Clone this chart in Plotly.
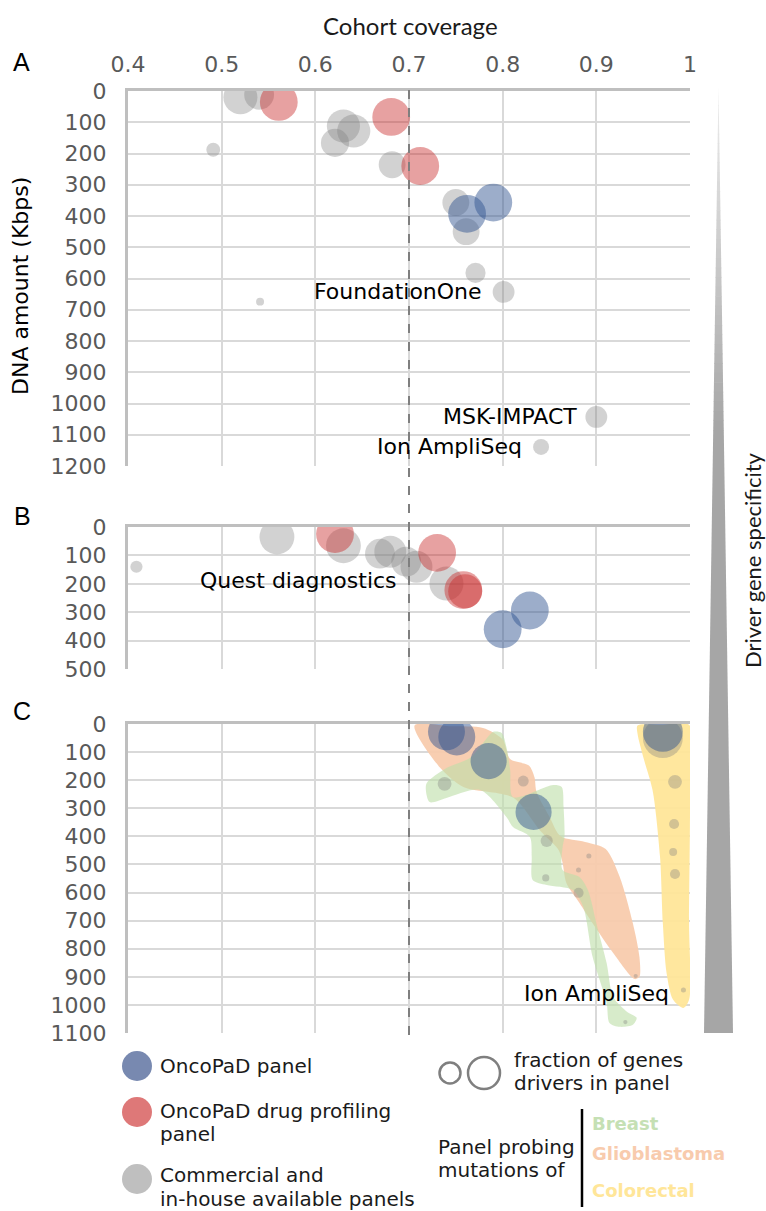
import plotly.graph_objects as go

W, H = 766, 1211


def px(x):
    return x / W


def py(y):
    return 1 - y / H


# ---------------- data ----------------
# Panel A  (cohort coverage, DNA amount in Kbps, fraction of driver genes)
a_gray_cov = [0.52, 0.54, 0.63, 0.641, 0.621, 0.491, 0.682, 0.75, 0.761, 0.771, 0.541, 0.801, 0.90, 0.841]
a_gray_dna = [20, 12, 112, 128, 166, 188, 236, 357, 450, 582, 674, 643, 1043, 1139]
a_gray_drv = [0.81, 0.71, 0.79, 0.79, 0.67, 0.33, 0.64, 0.64, 0.64, 0.48, 0.19, 0.52, 0.52, 0.38]
a_red_cov = [0.561, 0.681, 0.712]
a_red_dna = [35, 83, 240]
a_red_drv = [0.90, 0.90, 0.90]
a_blue_cov = [0.762, 0.79]
a_blue_dna = [393, 357]
a_blue_drv = [0.90, 0.90]

# Panel B
b_gray_cov = [0.409, 0.559, 0.63, 0.669, 0.68, 0.697, 0.708, 0.74]
b_gray_dna = [140, 35, 66, 94, 87, 122, 140, 199]
b_gray_drv = [0.29, 0.83, 0.83, 0.71, 0.76, 0.71, 0.76, 0.81]
b_red_cov = [0.621, 0.73, 0.758, 0.76]
b_red_dna = [25, 91, 222, 226]
b_red_drv = [0.90, 0.90, 0.90, 0.81]
b_blue_cov = [0.829, 0.80]
b_blue_dna = [294, 360]
b_blue_drv = [0.90, 0.90]

# Panel C
c_gray_cov = [0.971, 0.738, 0.822, 0.847, 0.846, 0.892, 0.881, 0.881, 0.984, 0.983, 0.982, 0.984, 0.993, 0.942, 0.931]
c_gray_dna = [50, 213, 203, 416, 548, 470, 520, 601, 206, 356, 456, 534, 947, 897, 1061]
c_gray_drv = [0.95, 0.33, 0.26, 0.29, 0.17, 0.12, 0.12, 0.24, 0.33, 0.24, 0.19, 0.24, 0.12, 0.10, 0.10]
c_blue_cov = [0.740, 0.751, 0.785, 0.833, 0.971]
c_blue_dna = [28, 46, 132, 313, 28]
c_blue_drv = [0.88, 0.88, 0.86, 0.86, 0.95]

# Panel C cancer-type regions (outline in coverage / DNA amount)
glio_cov = [0.706, 0.745, 0.779, 0.800, 0.808, 0.828, 0.834, 0.836, 0.850, 0.862, 0.888, 0.910,
            0.925, 0.939, 0.946, 0.946, 0.941, 0.918, 0.896, 0.882, 0.868, 0.864, 0.860, 0.840,
            0.811, 0.758, 0.733]
glio_dna = [5, 8, 14, 55, 125, 148, 190, 240, 330, 400, 420, 445,
            545, 709, 829, 900, 908, 815, 709, 637, 566, 495, 450, 380,
            262, 224, 155]

breast_cov = [0.719, 0.740, 0.765, 0.779, 0.790, 0.799, 0.804, 0.808, 0.811, 0.854, 0.863, 0.865,
              0.866, 0.864, 0.864, 0.882, 0.891, 0.900, 0.911, 0.918, 0.933, 0.943, 0.939, 0.925,
              0.914, 0.911, 0.896, 0.886, 0.875, 0.847, 0.832, 0.831, 0.829, 0.811, 0.804,
              0.776, 0.740, 0.722, 0.718]
breast_dna = [210, 157, 121, 68, 28, 32, 82, 164, 260, 217, 224, 295,
              402, 438, 520, 545, 591, 709, 851, 972, 1025, 1046, 1071, 1078,
              1064, 993, 829, 651, 591, 573, 555, 473, 402, 367, 331,
              235, 263, 278, 235]

colo_cov = [0.944, 0.970, 0.999, 1.000, 0.999, 0.999, 0.993, 0.982, 0.975, 0.971, 0.968, 0.960, 0.950, 0.944]
colo_dna = [5, 3, 3, 300, 700, 982, 1011, 982, 886, 709, 473, 235, 117, 35]

x_ticks = [0.4, 0.5, 0.6, 0.7, 0.8, 0.9, 1.0]
x_tick_text = ["0.4", "0.5", "0.6", "0.7", "0.8", "0.9", "1"]
threshold = 0.7

# ---------------- styles ----------------
GRAY = "rgba(127,127,127,0.5)"
RED = "rgba(200,40,40,0.62)"
BLUE = "rgba(47,82,143,0.68)"
GRID = "#d9d9d9"
AXIS = "#bfbfbf"
TICK = "#595959"
FONT = "DejaVu Sans"
SIZEREF = 1 / 42.0

fig = go.Figure()


def bubbles(xs, ys, ss, color, xa, ya):
    fig.add_trace(go.Scatter(
        x=xs, y=ys, mode="markers", xaxis=xa, yaxis=ya, hoverinfo="skip",
        marker=dict(size=ss, sizemode="diameter", sizeref=SIZEREF, color=color, line=dict(width=0)),
    ))


def region(xs, ys, color, xa, ya):
    fig.add_trace(go.Scatter(
        x=xs + xs[:1], y=ys + ys[:1], mode="lines", fill="toself", fillcolor=color,
        line=dict(width=0, shape="spline", smoothing=0.8), xaxis=xa, yaxis=ya, hoverinfo="skip",
    ))


# Panel A
bubbles(a_gray_cov, a_gray_dna, a_gray_drv, GRAY, "x", "y")
bubbles(a_red_cov, a_red_dna, a_red_drv, RED, "x", "y")
bubbles(a_blue_cov, a_blue_dna, a_blue_drv, BLUE, "x", "y")
# Panel B
bubbles(b_gray_cov, b_gray_dna, b_gray_drv, GRAY, "x2", "y2")
bubbles(b_red_cov, b_red_dna, b_red_drv, RED, "x2", "y2")
bubbles(b_blue_cov, b_blue_dna, b_blue_drv, BLUE, "x2", "y2")
# Panel C
region(glio_cov, glio_dna, "rgba(248,203,173,0.95)", "x3", "y3")
region(breast_cov, breast_dna, "rgba(190,222,170,0.62)", "x3", "y3")
region(colo_cov, colo_dna, "rgba(255,230,153,0.95)", "x3", "y3")
bubbles(c_gray_cov, c_gray_dna, c_gray_drv, GRAY, "x3", "y3")
bubbles(c_blue_cov, c_blue_dna, c_blue_drv, BLUE, "x3", "y3")

xdom = [px(128), px(690)]


def xaxis(anchor, labels):
    d = dict(domain=xdom, range=[0.4, 1.0], side="top", anchor=anchor, tickvals=x_ticks,
             showgrid=True, gridcolor=GRID, gridwidth=2, showline=True, linecolor=AXIS,
             linewidth=2.5, zeroline=False, ticks="", fixedrange=True, automargin=False,
             showticklabels=labels)
    if labels:
        d.update(ticktext=x_tick_text, tickfont=dict(family=FONT, size=22, color=TICK),
                 ticklabelstandoff=7)
    return d


def yaxis(anchor, top, bottom, vmax):
    return dict(domain=[py(bottom), py(top)], range=[vmax, 0], anchor=anchor,
                tickvals=list(range(0, vmax + 1, 100)), showgrid=True, gridcolor=GRID,
                gridwidth=2, showline=True, linecolor=AXIS, linewidth=3, zeroline=False,
                ticks="", tickfont=dict(family=FONT, size=22, color=TICK),
                ticklabelstandoff=14, fixedrange=True, automargin=False)


fig.update_layout(
    width=W, height=H, autosize=False, margin=dict(l=0, r=0, t=0, b=0, pad=0),
    paper_bgcolor="white", plot_bgcolor="rgba(0,0,0,0)", showlegend=False,
    xaxis=xaxis("y", True), xaxis2=xaxis("y2", False), xaxis3=xaxis("y3", False),
    yaxis=yaxis("x", 91, 466, 1200), yaxis2=yaxis("x2", 527, 669, 500),
    yaxis3=yaxis("x3", 724, 1033, 1100),
)

shapes = []
# threshold dashed line across the three panels
shapes.append(dict(type="line", xref="x", yref="paper", x0=threshold, x1=threshold,
                   y0=py(1035), y1=py(88), line=dict(color="#7f7f7f", width=2, dash="dash"),
                   layer="above"))

# Driver gene specificity wedge (gradient at the tip)
ax_, ay_ = 718.5, 86.0
by_, hw = 1033.0, 14.5


def hwid(y):
    return (y - ay_) / (by_ - ay_) * hw


grad_end = 430.0
N = 36
c0, c1 = (238, 238, 238), (166, 166, 166)
for i in range(N):
    y0 = ay_ + (grad_end - ay_) * i / N
    y1 = ay_ + (grad_end - ay_) * (i + 1) / N + 0.6
    t = (i + 0.5) / N
    col = "rgb(%d,%d,%d)" % tuple(round(c0[k] + (c1[k] - c0[k]) * t) for k in range(3))
    path = "M %f,%f L %f,%f L %f,%f L %f,%f Z" % (
        px(ax_ - hwid(y0)), py(y0), px(ax_ + hwid(y0)), py(y0),
        px(ax_ + hwid(y1)), py(y1), px(ax_ - hwid(y1)), py(y1))
    shapes.append(dict(type="path", xref="paper", yref="paper", path=path,
                       fillcolor=col, line=dict(width=0)))
path = "M %f,%f L %f,%f L %f,%f L %f,%f Z" % (
    px(ax_ - hwid(grad_end)), py(grad_end), px(ax_ + hwid(grad_end)), py(grad_end),
    px(ax_ + hw), py(by_), px(ax_ - hw), py(by_))
shapes.append(dict(type="path", xref="paper", yref="paper", path=path,
                   fillcolor="rgb(166,166,166)", line=dict(width=0)))


# legend markers
def circle(cx, cy, r, fill=None, line=None):
    d = dict(type="circle", xref="paper", yref="paper", xsizemode="pixel", ysizemode="pixel",
             xanchor=px(cx), yanchor=py(cy), x0=-r, x1=r, y0=-r, y1=r)
    d["fillcolor"] = fill if fill else "rgba(0,0,0,0)"
    d["line"] = line if line else dict(width=0)
    return d


shapes.append(circle(137, 1066, 15, fill="rgb(120,137,176)"))
shapes.append(circle(137, 1112, 15, fill="rgb(222,120,120)"))
shapes.append(circle(137, 1179, 15, fill="rgb(191,191,191)"))
shapes.append(circle(450, 1073, 10.5, line=dict(color="#7f7f7f", width=2.5)))
shapes.append(circle(484, 1073, 16, line=dict(color="#7f7f7f", width=2.5)))
shapes.append(dict(type="line", xref="paper", yref="paper", x0=px(582), x1=px(582),
                   y0=py(1207), y1=py(1109), line=dict(color="#000000", width=2.5)))
fig.update_layout(shapes=shapes)

anns = []


def txt(text, x, y, size=20, color="#1a1a1a", family=FONT, xanchor="left", angle=0,
        xref="paper", yref="paper", xshift=0, yshift=0):
    if xref == "paper":
        x = px(x)
    if yref == "paper":
        y = py(y)
    anns.append(dict(text=text, x=x, y=y, xref=xref, yref=yref, xanchor=xanchor,
                     yanchor="middle", showarrow=False, textangle=angle,
                     font=dict(family=family, size=size, color=color),
                     xshift=xshift, yshift=yshift))


txt("Cohort coverage", 410, 25, size=24, family="Lato", xanchor="center")
txt("Driver gene specificity", 752, 560, size=22, family="Lato", xanchor="center", angle=-90)
txt("DNA amount (Kbps)", 20, 286, size=22, color="#000", xanchor="center", angle=-90)
txt("A", 21, 62, size=25, color="#000", family="Liberation Sans", xanchor="center")
txt("B", 22, 516, size=25, color="#000", family="Liberation Sans", xanchor="center")
txt("C", 22, 711, size=25, color="#000", family="Liberation Sans", xanchor="center")

# in-plot labels
txt("FoundationOne", 0.801, 643, size=22, color="#000", xanchor="right", xref="x", yref="y", xshift=-20)
txt("MSK-IMPACT", 0.90, 1043, size=22, color="#000", xanchor="right", xref="x", yref="y", xshift=-17)
txt("Ion AmpliSeq", 0.841, 1139, size=22, color="#000", xanchor="right", xref="x", yref="y", xshift=-17)
txt("Quest diagnostics", 0.689, 189, size=22, color="#000", xanchor="right", xref="x2", yref="y2")
txt("Ion AmpliSeq", 0.993, 947, size=22, color="#000", xanchor="right", xref="x3", yref="y3",
    xshift=-12, yshift=-3)

# legend text
txt("OncoPaD panel", 158, 1066)
txt("OncoPaD drug profiling", 158, 1111)
txt("panel", 158, 1134)
txt("Commercial and", 158, 1175)
txt("in-house available panels", 158, 1199)
txt("fraction of genes", 512, 1060)
txt("drivers in panel", 512, 1083)
txt("Panel probing", 436, 1147)
txt("mutations of", 436, 1170)
txt("<b>Breast</b>", 590, 1123, size=18, color="#c5e0b4")
txt("<b>Glioblastoma</b>", 590, 1153, size=18, color="#f8cbad")
txt("<b>Colorectal</b>", 590, 1190, size=18, color="#ffe699")
fig.update_layout(annotations=anns)

fig.write_html("out.html", config={"displayModeBar": False},
               post_script="document.body.style.margin='0';document.body.style.padding='0';")
